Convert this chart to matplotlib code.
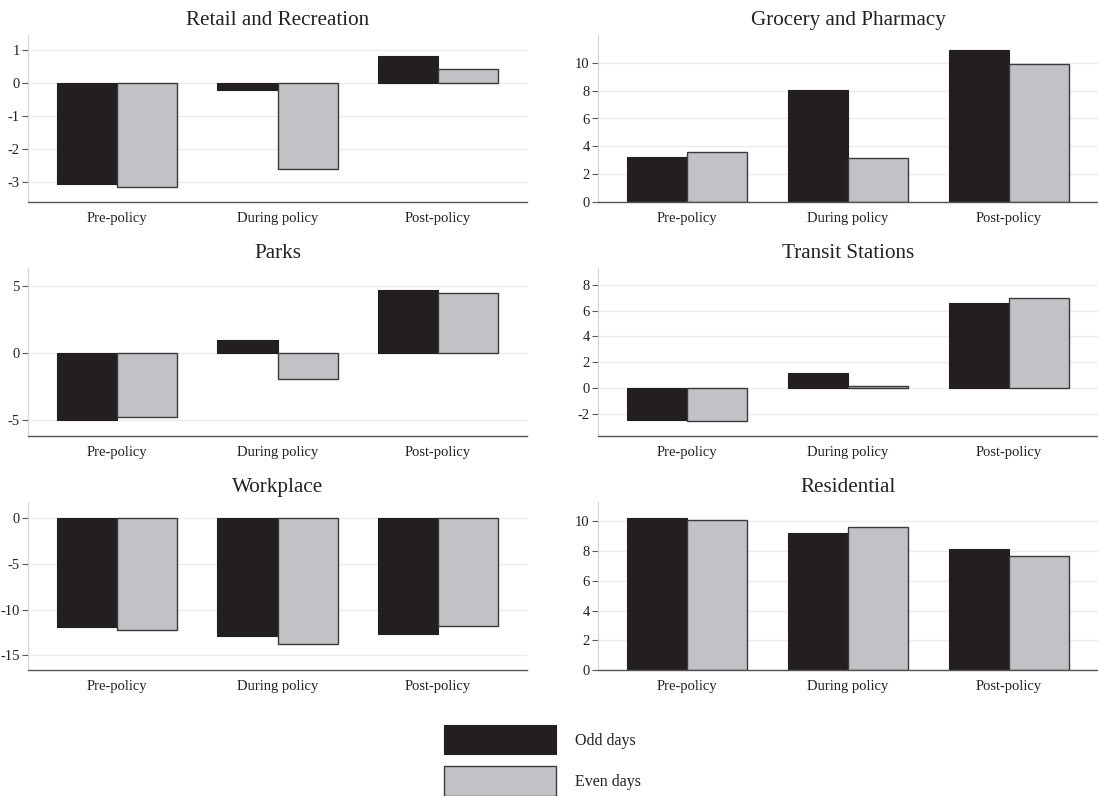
import matplotlib
matplotlib.use("Agg")
import matplotlib.pyplot as plt
import numpy as np

plt.rcParams['font.family'] = ['Liberation Serif', 'DejaVu Serif']

periods = ['Pre-policy', 'During policy', 'Post-policy']

titles = ['Retail and Recreation', 'Grocery and Pharmacy', 'Parks',
          'Transit Stations', 'Workplace', 'Residential']

odd_retail = [-3.05, -0.22, 0.80]
even_retail = [-3.16, -2.60, 0.43]
odd_grocery = [3.20, 8.05, 10.90]
even_grocery = [3.57, 3.15, 9.92]
odd_parks = [-4.95, 0.95, 4.70]
even_parks = [-4.72, -1.92, 4.42]
odd_transit = [-2.48, 1.16, 6.57]
even_transit = [-2.55, 0.15, 6.97]
odd_work = [-11.9, -12.9, -12.7]
even_work = [-12.25, -13.8, -11.8]
odd_resid = [10.2, 9.2, 8.12]
even_resid = [10.08, 9.6, 7.66]

odd_vals = [odd_retail, odd_grocery, odd_parks, odd_transit, odd_work, odd_resid]
even_vals = [even_retail, even_grocery, even_parks, even_transit, even_work, even_resid]

yticks = [[-3, -2, -1, 0, 1], [0, 2, 4, 6, 8, 10], [-5, 0, 5],
          [-2, 0, 2, 4, 6, 8], [-15, -10, -5, 0], [0, 2, 4, 6, 8, 10]]
ylims = [(-3.6, 1.45), (0, 12.0), (-6.15, 6.3), (-3.7, 9.3), (-16.6, 1.75), (0, 11.3)]

ODD = '#231f20'
EVEN = '#c1c2c5'
EDGE = '#3a3a3a'

W, H = 1098, 796
fig = plt.figure(figsize=(W / 100, H / 100), dpi=100)

col_x = [(28, 527), (598, 1098)]
row_y = [(35, 202), (268, 436), (502, 670)]

x = np.arange(len(periods))
bw = 0.374

for i, title in enumerate(titles):
    r, c = divmod(i, 2)
    x0, x1 = col_x[c]
    y0, y1 = row_y[r]
    ax = fig.add_axes([x0 / W, 1 - y1 / H, (x1 - x0) / W, (y1 - y0) / H])
    ax.set_axisbelow(True)
    ax.bar(x - bw / 2, odd_vals[i], bw, color=ODD, edgecolor=ODD, linewidth=0.8,
           label='Odd days')
    ax.bar(x + bw / 2, even_vals[i], bw, color=EVEN, edgecolor=EDGE, linewidth=1.0,
           label='Even days')
    ax.set_xlim(-0.555, 2.555)
    ax.set_ylim(*ylims[i])
    ax.set_yticks(yticks[i])
    ax.set_yticklabels([str(v) for v in yticks[i]])
    ax.set_xticks(x)
    ax.set_xticklabels(periods)
    ax.grid(axis='y', color='#ececec', linewidth=1.0)
    ax.tick_params(axis='x', length=0, pad=7, labelsize=10.5, colors='#222222')
    ax.tick_params(axis='y', length=4, width=0.8, color='#555555', pad=2,
                   labelsize=10.5, labelcolor='#222222')
    for s in ['top', 'right']:
        ax.spines[s].set_visible(False)
    ax.spines['left'].set_color('#d4d4d4')
    ax.spines['bottom'].set_color('#555555')
    ax.spines['bottom'].set_linewidth(1.0)
    ax.set_title(title, fontsize=15.2, color='#222222', pad=7)
    if i == 0:
        handles, labels = ax.get_legend_handles_labels()

leg = fig.legend(handles, labels, loc='upper left',
                 bbox_to_anchor=(444 / W, 1 - 725 / H),
                 frameon=False, fontsize=11.5, handlelength=7.0, handleheight=2.45,
                 labelspacing=0.75, handletextpad=1.2, borderpad=0, borderaxespad=0)
for t in leg.get_texts():
    t.set_color('#222222')

fig.savefig('out.png', dpi=100)
